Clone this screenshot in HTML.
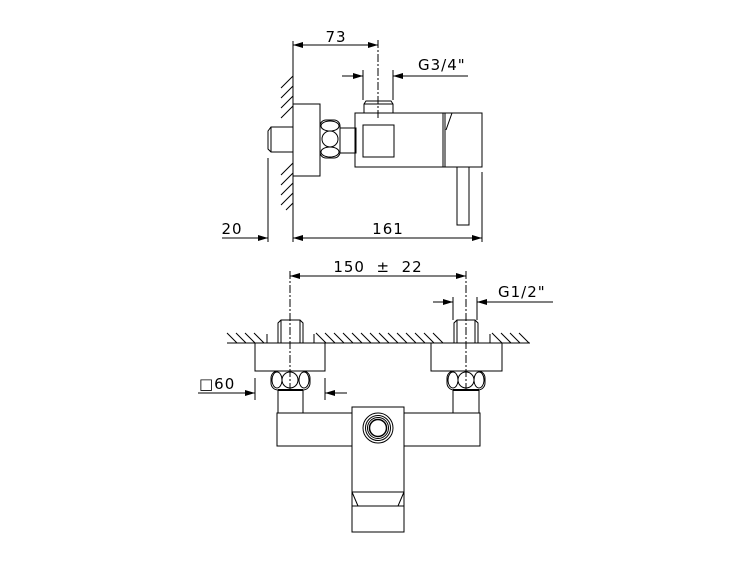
<!DOCTYPE html>
<html><head><meta charset="utf-8"><style>
html,body{margin:0;padding:0;background:#fff;}
svg{display:block}
text{font-family:"DejaVu Sans","Liberation Sans",sans-serif;font-size:15px;letter-spacing:1px;fill:#000}
</style></head><body>
<svg width="750" height="563" viewBox="0 0 750 563" xmlns="http://www.w3.org/2000/svg">
<defs>
<marker id="a" viewBox="0 0 10 6" refX="10" refY="3" markerWidth="10" markerHeight="6" markerUnits="userSpaceOnUse" orient="auto-start-reverse"><path d="M0,0 L10,3 L0,6 Z" fill="#000"/></marker>
</defs>
<g stroke="#000" stroke-width="1" fill="none">
<line x1="293" y1="41" x2="293" y2="242"/>
<line x1="293" y1="45" x2="378" y2="45" marker-start="url(#a)" marker-end="url(#a)"/>
<line x1="378" y1="40" x2="378" y2="118" stroke-dasharray="8,2,2,2"/>
<line x1="363" y1="70" x2="363" y2="100"/>
<line x1="393" y1="70" x2="393" y2="100"/>
<line x1="342" y1="76" x2="363" y2="76" marker-end="url(#a)"/>
<line x1="468" y1="76" x2="393" y2="76" marker-end="url(#a)"/>
<path d="M281,88 L293,76 M281,98 L293,86 M281,108 L293,96 M281,118 L293,106 M281,175 L293,163 M281,185 L293,173 M281,195 L293,183 M281,205 L293,193 M286,210 L293,203"/>
<rect x="293" y="104" width="27" height="72"/>
<path d="M293,127 L271,127 L268,131 L268,149 L271,152 L293,152 M271,127 L271,152"/>
<rect x="320" y="120" width="20" height="38" rx="6"/>
<ellipse cx="330" cy="126" rx="9" ry="5"/>
<ellipse cx="330" cy="152" rx="9" ry="5"/>
<circle cx="330" cy="139" r="8"/>
<rect x="340" y="128" width="16" height="25"/>
<rect x="355" y="113" width="88" height="54"/>
<rect x="363" y="125" width="31" height="32"/>
<path d="M364,113 L364,104 L366,101 L391,101 L393,104 L393,113 M364,104 L393,104"/>
<rect x="443" y="113" width="39" height="54"/>
<path d="M443,113 L452,113 L446,130 M445,113 L445,167"/>
<rect x="457" y="167" width="12" height="58"/>
<line x1="268" y1="158" x2="268" y2="242"/>
<line x1="482" y1="172" x2="482" y2="242"/>
<line x1="222" y1="238" x2="268" y2="238" marker-end="url(#a)"/>
<line x1="293" y1="238" x2="482" y2="238" marker-start="url(#a)" marker-end="url(#a)"/>

<line x1="290" y1="271" x2="290" y2="392" stroke-dasharray="8,2,2,2"/>
<line x1="466" y1="271" x2="466" y2="392" stroke-dasharray="8,2,2,2"/>
<line x1="290" y1="276" x2="466" y2="276" marker-start="url(#a)" marker-end="url(#a)"/>
<line x1="453" y1="297" x2="453" y2="320"/>
<line x1="477" y1="297" x2="477" y2="320"/>
<line x1="433" y1="302" x2="453" y2="302" marker-end="url(#a)"/>
<line x1="553" y1="302" x2="477" y2="302" marker-end="url(#a)"/>
<line x1="227" y1="343" x2="530" y2="343"/>
<path d="M227,333 L237,343 M236,333 L246,343 M245,333 L255,343 M254,333 L264,343 M267,334 L267,343
M314,334 L314,343 M316,333 L326,343 M325,333 L335,343 M334,333 L344,343 M343,333 L353,343 M352,333 L362,343 M361,333 L371,343 M370,333 L380,343 M379,333 L389,343 M388,333 L398,343 M397,333 L407,343 M406,333 L416,343 M415,333 L425,343 M424,333 L434,343 M433,333 L443,343
M490,334 L490,343 M492,333 L502,343 M501,333 L511,343 M510,333 L520,343 M519,333 L529,343"/>
<path d="M278,343 L278,323 L281,320 L300,320 L303,323 L303,343 M281,320 L281,343 M300,320 L300,343"/>
<path d="M454,343 L454,323 L457,320 L475,320 L478,323 L478,343 M457,320 L457,343 M475,320 L475,343"/>
<rect x="255" y="343" width="70" height="28"/>
<rect x="431" y="343" width="71" height="28"/>
<rect x="271" y="371" width="39" height="19" rx="7"/>
<ellipse cx="290" cy="380" rx="8" ry="8"/>
<ellipse cx="277" cy="380" rx="5" ry="8"/>
<ellipse cx="304" cy="380" rx="5" ry="8"/>
<rect x="447" y="371" width="38" height="19" rx="7"/>
<ellipse cx="466" cy="380" rx="8" ry="8"/>
<ellipse cx="453" cy="380" rx="5" ry="8"/>
<ellipse cx="479" cy="380" rx="5" ry="8"/>
<line x1="278" y1="390" x2="303" y2="390" stroke-width="2"/>
<line x1="453" y1="390" x2="479" y2="390" stroke-width="2"/>
<rect x="278" y="390" width="25" height="23"/>
<rect x="453" y="390" width="26" height="23"/>
<rect x="277" y="413" width="203" height="33"/>
<rect x="352" y="407" width="52" height="125" fill="#fff"/>
<circle cx="378" cy="428" r="15"/>
<circle cx="378" cy="428" r="12.5"/>
<circle cx="378" cy="428" r="10.5"/>
<circle cx="378" cy="428" r="8.5" stroke-width="1.5"/>
<path d="M352,492 L404,492 M352,506 L404,506 M352,492 L358,506 M404,492 L398,506"/>
<line x1="255" y1="378" x2="255" y2="400"/>
<line x1="325" y1="378" x2="325" y2="400"/>
<line x1="198" y1="393" x2="255" y2="393" marker-end="url(#a)"/>
<line x1="347" y1="393" x2="325" y2="393" marker-end="url(#a)"/>
</g>
<g>
<text x="336" y="42" text-anchor="middle">73</text>
<text x="418" y="70">G3/4"</text>
<text x="232" y="234" text-anchor="middle">20</text>
<text x="388" y="234" text-anchor="middle">161</text>
<text x="378" y="272" text-anchor="middle">150 &#160;±&#160; 22</text>
<text x="498" y="297">G1/2"</text>
<text x="199" y="389">□60</text>
</g>
</svg>
</body></html>
